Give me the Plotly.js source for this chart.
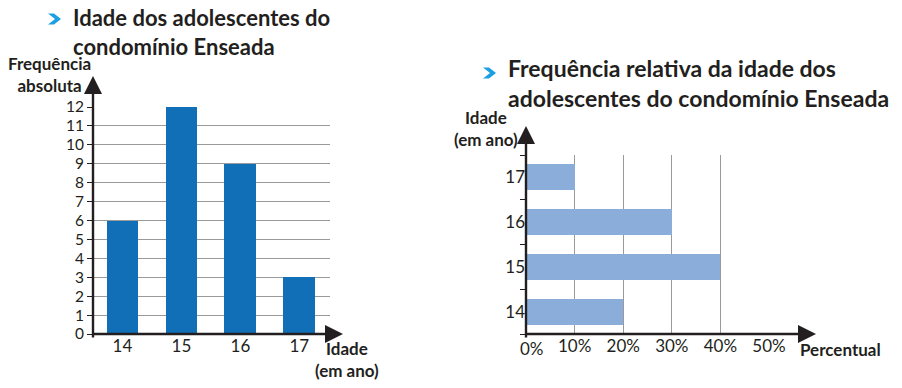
<!DOCTYPE html>
<html>
<head>
<meta charset="utf-8">
<script src="https://cdn.plot.ly/plotly-3.0.1.min.js"></script>
<style>html,body{margin:0;padding:0;background:#fff;}#chart{width:902px;height:388px;}</style>
</head>
<body>
<div id="chart"></div>
<script>
// ---- data ----
const ages = ['14', '15', '16', '17'];
const absoluteFreq = [6, 12, 9, 3];
const relativeFreq = [20, 40, 30, 10]; // percent
const absTicks = [0, 1, 2, 3, 4, 5, 6, 7, 8, 9, 10, 11, 12];
const pctTicks = [0, 10, 20, 30, 40, 50];
const pctLabels = ['0%', '10%', '20%', '30%', '40%', '50%'];
const title1 = ['Idade dos adolescentes do', 'condomínio Enseada'];
const title2 = ['Frequência relativa da idade dos', 'adolescentes do condomínio Enseada'];

const W = 902, H = 388;
const px = v => v / W;
const py = v => (H - v) / H;

const TXT = '#231f20';
const FONT = 'Lato, "Open Sans", sans-serif';
const TICK = 17;
const LAB = 17;

const traces = [
  {
    type: 'bar', x: ages, y: absoluteFreq, xaxis: 'x', yaxis: 'y',
    marker: {color: '#116fb7', line: {width: 0}}, width: 0.54, hoverinfo: 'none'
  },
  {
    type: 'bar', orientation: 'h', x: relativeFreq, y: ages, xaxis: 'x2', yaxis: 'y2',
    marker: {color: '#8badda', line: {width: 0}}, width: 0.58, hoverinfo: 'none'
  }
];

function lbl(text, x, y, size, bold, color, anchor) {
  return {
    text: text, xref: 'paper', yref: 'paper', x: px(x), y: py(y),
    xanchor: anchor || 'center', yanchor: 'middle', align: anchor || 'center', showarrow: false,
    font: {family: FONT, size: size, color: color || TXT, weight: bold ? 700 : 400}
  };
}
function arrow(x0, y0, x1, y1) {
  return {
    text: '', xref: 'paper', yref: 'paper', x: px(x1), y: py(y1),
    axref: 'pixel', ayref: 'pixel', ax: x0 - x1, ay: y0 - y1,
    showarrow: true, arrowhead: 2, arrowsize: 1.5, arrowwidth: 2.4,
    arrowcolor: TXT, standoff: 0, startstandoff: 0
  };
}
function chevron(x, y, w, h, t) {
  const pts = [[x, y], [x + t, y], [x + w, y + h / 2], [x + t, y + h], [x, y + h], [x + w - t, y + h / 2]];
  return {
    type: 'path', xref: 'paper', yref: 'paper',
    path: 'M' + pts.map(p => px(p[0]) + ',' + py(p[1])).join(' L') + ' Z',
    fillcolor: '#1ba0e2', line: {width: 0}
  };
}

const annotations = [
  lbl(title1.join('<br>'), 71, 32, 22, true, TXT, 'left'),
  lbl(title2.join('<br>'), 506, 83, 23, true, TXT, 'left'),
  lbl('Frequência<br>absoluta', 49, 74, LAB, true),
  lbl('Idade<br>(em ano)', 347, 359, LAB, true),
  lbl('Idade<br>(em ano)', 486, 128, LAB, true),
  lbl('Percentual', 840, 349, LAB, true),
  lbl(pctLabels[0], 532, 348, TICK, false),
  arrow(93, 339, 93, 76),
  arrow(92, 334, 343, 334),
  arrow(526, 339, 526, 126),
  arrow(525, 334, 816, 334)
];

const layout = {
  width: W, height: H,
  margin: {l: 0, r: 0, t: 0, b: 0},
  paper_bgcolor: '#ffffff', plot_bgcolor: 'rgba(0,0,0,0)',
  showlegend: false, bargap: 0,
  font: {family: FONT, color: TXT, size: TICK},
  shapes: [chevron(48, 13.5, 13, 11, 6), chevron(483, 67.5, 13, 11, 6)],
  xaxis: {
    domain: [px(93), px(330)], anchor: 'y', type: 'category',
    range: [-0.5, 3.52], showgrid: false, zeroline: false, showline: false,
    ticks: '', tickfont: {family: FONT, size: TICK, color: TXT}, fixedrange: true
  },
  yaxis: {
    domain: [py(334), py(107)], anchor: 'x', range: [0, 12],
    tickmode: 'array', tickvals: absTicks, ticktext: absTicks.map(String),
    showgrid: true, gridcolor: '#9a9a9a', gridwidth: 1, zeroline: false, showline: false,
    ticks: 'outside', ticklen: 5, tickwidth: 1, tickcolor: TXT,
    tickfont: {family: FONT, size: 15.5, color: TXT}, fixedrange: true
  },
  xaxis2: {
    domain: [px(526), px(769)], anchor: 'y2', range: [0, 50],
    tickmode: 'array', tickvals: pctTicks, ticktext: pctLabels.map((t, i) => i === 0 ? '' : t),
    showgrid: true, gridcolor: '#9a9a9a', gridwidth: 1, zeroline: false, showline: false,
    ticks: '', tickfont: {family: FONT, size: TICK, color: TXT}, fixedrange: true
  },
  yaxis2: {
    domain: [py(334), py(155)], anchor: 'x2', type: 'category',
    range: [-0.5, 3.5], showgrid: false, zeroline: false, showline: false,
    ticks: 'outside', tickson: 'boundaries', ticklen: 5, tickwidth: 1, tickcolor: TXT,
    tickfont: {family: FONT, size: TICK, color: TXT}, fixedrange: true
  },
  annotations: annotations
};

Plotly.newPlot('chart', traces, layout, {staticPlot: true, displayModeBar: false});
</script>
</body>
</html>
